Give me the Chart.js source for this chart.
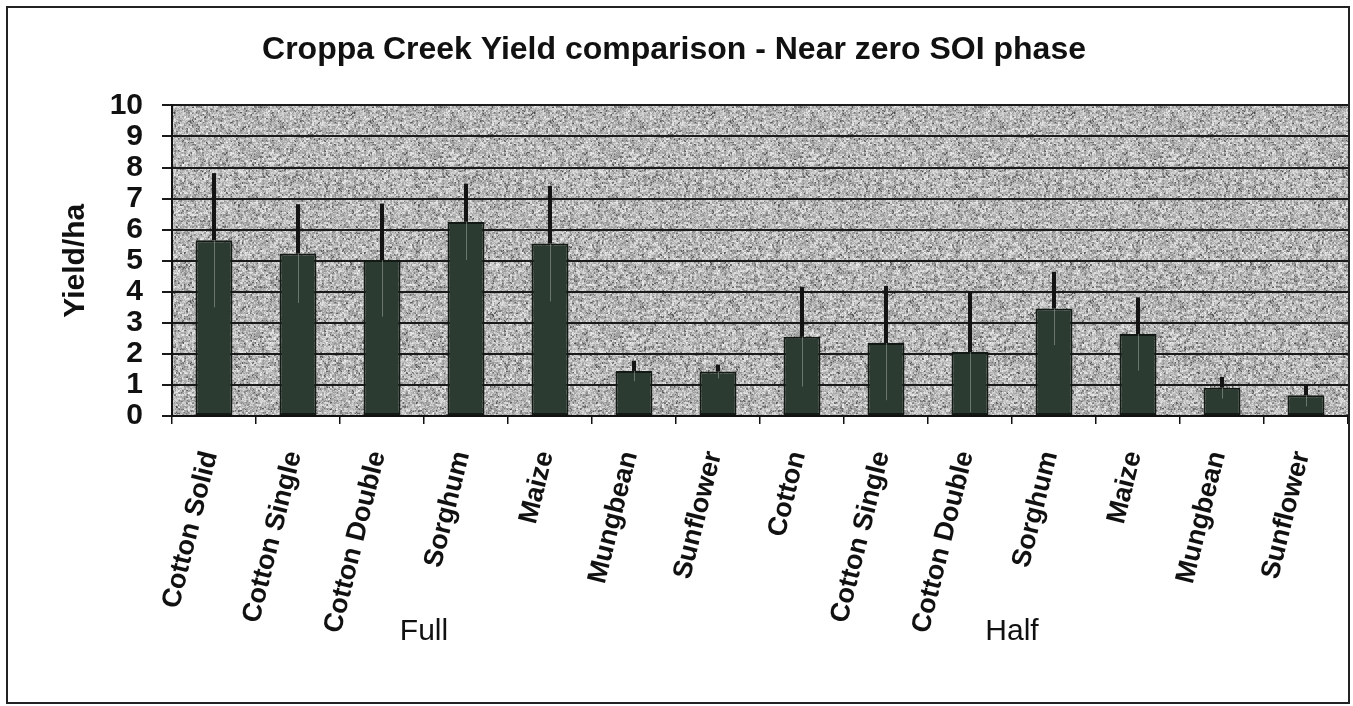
<!DOCTYPE html>
<html>
<head>
<meta charset="utf-8">
<script src="https://cdn.jsdelivr.net/npm/chart.js@4.4.1/dist/chart.umd.min.js"></script>
<style>
  html, body { margin: 0; padding: 0; background: #ffffff; }
  #wrap { width: 1353px; height: 706px; }
</style>
</head>
<body>
<div id="wrap"><canvas id="c" width="1353" height="706"></canvas></div>
<script>
// ---- data ----
const categories = ['Cotton Solid', 'Cotton Single', 'Cotton Double', 'Sorghum', 'Maize', 'Mungbean', 'Sunflower',
                    'Cotton', 'Cotton Single', 'Cotton Double', 'Sorghum', 'Maize', 'Mungbean', 'Sunflower'];
const yieldValues = [5.66, 5.23, 5.02, 6.25, 5.55, 1.45, 1.43, 2.55, 2.35, 2.06, 3.46, 2.64, 0.91, 0.67];
const errorValues = [2.16, 1.59, 1.82, 1.23, 1.86, 0.33, 0.22, 1.60, 1.84, 1.94, 1.18, 1.18, 0.35, 0.36];
const groupLabels = ['Full', 'Half'];
const groupSize = 7;
const yTicks = [0, 1, 2, 3, 4, 5, 6, 7, 8, 9, 10];

const FONT = "'Liberation Sans', Arial, Helvetica, sans-serif";

// speckled grey texture for the plot area (deterministic hash, style only)
function makeTexture(ctx) {
  const size = 180;
  const off = document.createElement('canvas');
  off.width = size; off.height = size;
  const octx = off.getContext('2d');
  const img = octx.createImageData(size, size);
  function hash(a, b) {
    let h = (a * 374761393 + b * 668265263) | 0;
    h = Math.imul(h ^ (h >>> 13), 1274126177);
    h = (h ^ (h >>> 16)) >>> 0;
    return (h % 1000) / 1000;
  }
  for (let y = 0; y < size; y++) {
    for (let x = 0; x < size; x++) {
      const r = 0.6 * hash(x >> 1, y >> 1) + 0.4 * hash(x + 17, y + 91);
      let g;
      if (r < 0.25) g = 70 + r * 320;
      else if (r < 0.55) g = 150 + (r - 0.25) * 120;
      else g = 190 + (r - 0.55) * 120;
      const i = (y * size + x) * 4;
      img.data[i] = g; img.data[i + 1] = g; img.data[i + 2] = g; img.data[i + 3] = 255;
    }
  }
  octx.putImageData(img, 0, 0);
  return ctx.createPattern(off, 'repeat');
}

const decorPlugin = {
  id: 'decor',
  beforeDraw(chart) {
    const {ctx, chartArea} = chart;
    ctx.save();
    ctx.fillStyle = makeTexture(ctx);
    ctx.fillRect(chartArea.left, chartArea.top, chartArea.right - chartArea.left, chartArea.bottom - chartArea.top);
    ctx.restore();
  },
  afterDatasetsDraw(chart) {
    const {ctx} = chart;
    const y = chart.scales.y;
    const meta = chart.getDatasetMeta(0);
    ctx.save();
    meta.data.forEach((bar, i) => {
      const v = yieldValues[i], e = errorValues[i];
      const yTop = y.getPixelForValue(v + e);
      const yVal = y.getPixelForValue(v);
      const yLow = y.getPixelForValue(v - e);
      ctx.strokeStyle = 'rgba(170,180,170,0.5)';
      ctx.lineWidth = 1;
      ctx.beginPath();
      ctx.moveTo(bar.x + 0.5, yVal);
      ctx.lineTo(bar.x + 0.5, yLow);
      ctx.stroke();
      ctx.strokeStyle = '#141414';
      ctx.lineWidth = 4;
      ctx.beginPath();
      ctx.moveTo(bar.x, yVal);
      ctx.lineTo(bar.x, yTop);
      ctx.stroke();
    });
    ctx.restore();
  },
  afterDraw(chart) {
    const {ctx} = chart;
    const x = chart.scales.x;
    ctx.save();
    ctx.fillStyle = '#111';
    ctx.font = '30px ' + FONT;
    ctx.textAlign = 'center';
    ctx.textBaseline = 'middle';
    groupLabels.forEach((g, k) => {
      const i0 = k * groupSize;
      const cx = (x.getPixelForValue(i0 + 2) + x.getPixelForValue(i0 + 3)) / 2;
      ctx.fillText(g, cx, 632);
    });
    ctx.strokeStyle = '#222';
    ctx.lineWidth = 2;
    ctx.strokeRect(7, 7, 1342, 696);
    ctx.restore();
  }
};

new Chart(document.getElementById('c'), {
  type: 'bar',
  data: {
    labels: categories,
    datasets: [{
      data: yieldValues,
      backgroundColor: '#2c3b31',
      borderColor: '#131a15',
      borderWidth: 2,
      borderSkipped: false,
      barPercentage: 0.44,
      categoryPercentage: 1.0
    }]
  },
  options: {
    responsive: false,
    animation: false,
    events: [],
    layout: { padding: { left: 0, right: 5, top: 0, bottom: 0 } },
    plugins: {
      legend: { display: false },
      tooltip: { enabled: false },
      title: {
        display: true,
        text: 'Croppa Creek Yield comparison - Near zero SOI phase',
        color: '#111',
        font: { family: FONT, size: 32, weight: 'bold', lineHeight: 1.2 },
        padding: { top: 31, bottom: 36 }
      }
    },
    scales: {
      x: {
        grid: { display: true, drawOnChartArea: false, drawTicks: true, tickLength: 8, color: '#111', lineWidth: 1.5, offset: true },
        border: { display: true, color: '#111', width: 2 },
        ticks: {
          autoSkip: false, maxRotation: 76, minRotation: 76,
          color: '#111', padding: 24, labelOffset: -4,
          font: { family: FONT, size: 27, weight: 'bold' }
        },
        afterFit(scale) { scale.height = 290; scale.paddingLeft = 0; scale.paddingRight = 0; }
      },
      y: {
        min: 0, max: 10,
        afterBuildTicks(scale) { scale.ticks = yTicks.map(v => ({value: v})); },
        grid: { color: '#1a1a1a', lineWidth: 2, drawTicks: true, tickLength: 10 },
        border: { display: true, color: '#111', width: 2 },
        ticks: {
          autoSkip: false,
          color: '#111', padding: 19,
          font: { family: FONT, size: 30, weight: 'bold' }
        },
        title: {
          display: true, text: 'Yield/ha', color: '#111',
          font: { family: FONT, size: 30, weight: 'bold', lineHeight: 1.2 },
          padding: { top: 58, bottom: 0 }
        },
        afterFit(scale) { scale.width = 172; scale.paddingTop = 0; scale.paddingBottom = 0; }
      }
    }
  },
  plugins: [decorPlugin]
});
</script>
</body>
</html>
